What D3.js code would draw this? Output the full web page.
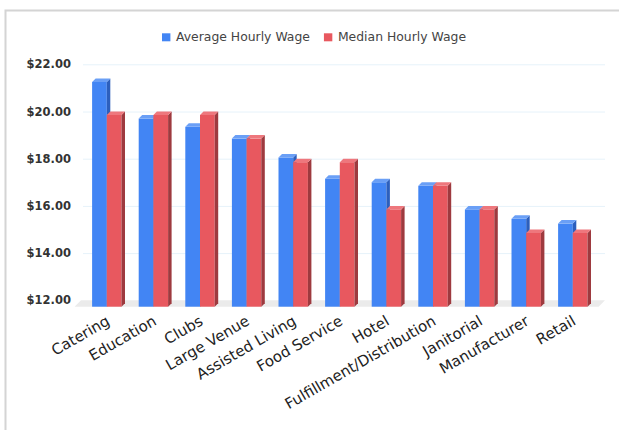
<!DOCTYPE html>
<html>
<head>
<meta charset="utf-8">
<script src="https://cdn.jsdelivr.net/npm/d3@7"></script>
<style>
  body { margin: 0; background: #fff; }
  svg { display: block; }
  svg text { font-family: "DejaVu Sans", Verdana, sans-serif; }
  .grid line { stroke: #e6f2fa; stroke-width: 1; }
  .grid text { font-size: 11.5px; font-weight: bold; fill: #333; }
  .xaxis text { font-size: 15px; fill: #222; }
  .legend text { font-size: 12.4px; fill: #444; }
</style>
</head>
<body>
<svg id="chart" width="619" height="430"></svg>
<script>
// wage data
var categories = ["Catering", "Education", "Clubs", "Large Venue", "Assisted Living",
  "Food Service", "Hotel", "Fulfillment/Distribution", "Janitorial", "Manufacturer", "Retail"];
var avgWage = [21.4, 19.85, 19.5, 19.0, 18.2, 17.3, 17.15, 17.0, 16.0, 15.6, 15.4];
var medianWage = [20.0, 20.0, 20.0, 19.0, 18.0, 18.0, 16.0, 17.0, 16.0, 15.0, 15.0];
var seriesNames = ["Average Hourly Wage", "Median Hourly Wage"];
var yTicks = [12, 14, 16, 18, 20, 22];

var colors = [
  {front: "#4285f4", top: "#6a9ff6", side: "#2c5fbd"},
  {front: "#e8585f", top: "#ee777d", side: "#9e3a3f"}
];

var svg = d3.select("#chart");

// frame
svg.append("path")
  .attr("d", "M5.5,430 L5.5,10.5 L619,10.5")
  .attr("fill", "none")
  .attr("stroke", "#d4d4d4")
  .attr("stroke-width", 2);

var depth = 3.5;      // bar depth
var floorDepth = 6.4; // floor depth

var x = d3.scaleBand().domain(categories).range([83.5, 596.1]);
var xs = d3.scaleBand().domain([0, 1]).range([0, 29.4]);
var y = d3.scaleLinear().domain([12, 22]).range([300.3, 64.3]);

var gridLeft = 83, gridRight = 605;

// grid + y labels
var grid = svg.append("g")
  .attr("class", "grid")
  .attr("transform", "translate(" + gridLeft + ",0)")
  .call(d3.axisLeft(y)
    .tickValues(yTicks)
    .tickSize(-(gridRight - gridLeft))
    .tickPadding(12)
    .tickFormat(function(d) { return "$" + d3.format(".2f")(d); }));
grid.attr("font-family", null).attr("font-size", null);
grid.select(".domain").remove();
grid.selectAll(".tick line").filter(function(d) { return d === 12; }).remove();

// floor
var fy0 = y(12), fy1 = y(12) + floorDepth;
svg.append("path")
  .attr("d", "M" + (gridLeft - 2) + "," + fy0 + " L" + gridRight + "," + fy0 +
    " L" + (gridRight - floorDepth) + "," + fy1 + " L" + (gridLeft - 2 - floorDepth) + "," + fy1 + " Z")
  .attr("fill", "#ebebeb");

// bars
var bars = [];
categories.forEach(function(c, i) {
  bars.push({cat: c, s: 0, v: avgWage[i]});
  bars.push({cat: c, s: 1, v: medianWage[i]});
});

var bw = xs.bandwidth();
var bar = svg.append("g").selectAll("g")
  .data(bars)
  .join("g");

function fx(d) { return x(d.cat) + x.bandwidth() / 2 - 14.7 + xs(d.s); }
function fTop(d) { return y(d.v) + depth; }
var fBot = y(12) + floorDepth;

bar.append("rect")
  .attr("x", fx)
  .attr("y", fTop)
  .attr("width", bw)
  .attr("height", function(d) { return fBot - fTop(d); })
  .attr("fill", function(d) { return colors[d.s].front; });

bar.append("path")
  .attr("d", function(d) {
    var x0 = fx(d) + bw, t = fTop(d);
    return "M" + x0 + "," + t + " L" + (x0 + depth) + "," + (t - depth) +
      " L" + (x0 + depth) + "," + (fBot - depth) + " L" + x0 + "," + fBot + " Z";
  })
  .attr("fill", function(d) { return colors[d.s].side; });

bar.append("path")
  .attr("d", function(d) {
    var x0 = fx(d), t = fTop(d);
    return "M" + x0 + "," + t + " L" + (x0 + depth) + "," + (t - depth) +
      " L" + (x0 + bw + depth) + "," + (t - depth) + " L" + (x0 + bw) + "," + t + " Z";
  })
  .attr("fill", function(d) { return colors[d.s].top; });

// x labels
var xaxis = svg.append("g")
  .attr("class", "xaxis")
  .attr("transform", "translate(0,324)")
  .call(d3.axisBottom(x).tickSize(0));
xaxis.attr("font-family", null).attr("font-size", null);
xaxis.select(".domain").remove();
xaxis.selectAll("text")
  .attr("y", 0)
  .attr("dy", 0)
  .attr("text-anchor", "end")
  .attr("transform", "translate(4,0) rotate(-30)");

// legend
var legend = svg.append("g").attr("class", "legend");
var lx = 162;
seriesNames.forEach(function(name, i) {
  legend.append("rect")
    .attr("x", lx).attr("y", 33.3)
    .attr("width", 8.4).attr("height", 8)
    .attr("fill", colors[i].front);
  var t = legend.append("text")
    .attr("x", lx + 14).attr("y", 41.3)
    .text(name);
  lx += 14 + t.node().getComputedTextLength() + 14;
});
</script>
</body>
</html>
